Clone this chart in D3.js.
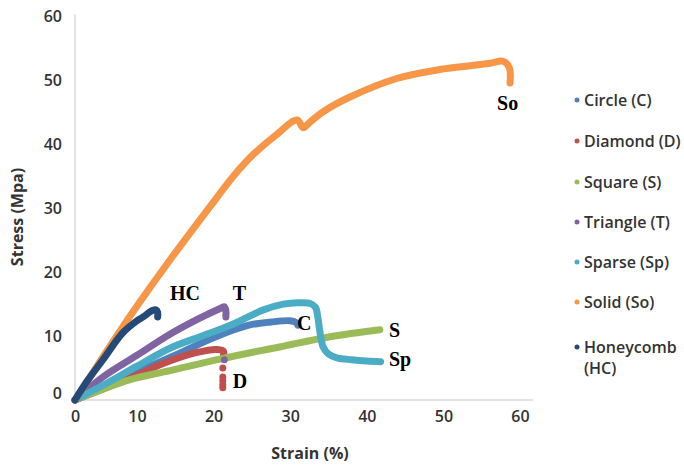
<!DOCTYPE html>
<html>
<head>
<meta charset="utf-8">
<script src="https://cdn.jsdelivr.net/npm/d3@7"></script>
<style>
  body { margin: 0; background: #fff; }
  svg { display: block; }
</style>
</head>
<body>
<div id="chart"></div>
<script>
// Tick values
const strainTicks = [0, 10, 20, 30, 40, 50, 60];
const stressTicks = [0, 10, 20, 30, 40, 50, 60];

// Curves: [strain %, stress MPa]
const circle = [[0,0],[4.5,1.9],[10,4.4],[15.5,7.3],[20.3,9.9],[24.6,11.7],[27.5,12.2],[30,12.4],[30.8,12.1],[31,11.7]];
const diamond = [[0,0],[5,1.9],[10,3.9],[13.4,5.7],[17.7,7.4],[20.5,7.9],[21.3,7.6],[21.3,7.1]];
const diamondDrop = [[21.2,5],[21.2,3.6],[21.2,3],[21.2,2.4],[21.2,1.9]];
const square = [[0,0],[4.5,1.7],[8.9,3.2],[14.3,4.6],[20.8,6.4],[28.6,8.3],[35.2,9.9],[41.7,11]];
const triangle = [[0,0],[4.5,3.6],[10,7],[14.3,10.3],[18,12.7],[21,14.4],[21.4,14.6],[21.6,14],[21.6,13]];
const triangleDrop = [[21.4,6.3]];
const sparse = [[0,0],[4.5,2.3],[10,5.3],[14.3,8.1],[18.2,9.9],[22.2,11.7],[24.5,13],[26.5,14.1],[29.1,15],[31,15.2],[32.6,15.1],[33.3,14.5],[33.6,13],[33.9,10.5],[34.3,8.3],[35,7.2],[36.1,6.6],[38,6.3],[40,6.1],[41.8,6]];
const solid = [[0,0],[3.55,5.3],[7.26,10.8],[10,14.7],[14.3,21.9],[19.5,30.2],[22.5,34.9],[25,38.2],[28,41.3],[30.9,43.8],[31.7,42.6],[32.6,43.5],[34.3,45.1],[37.8,47.4],[43.9,50.3],[49.5,51.7],[53.5,52.3],[56.1,52.7],[57.8,53],[58.6,52],[58.7,49.6]];
const honeycomb = [[0,0],[2,3],[4.5,6.3],[7.7,10.5],[10,12.4],[10.8,13],[12,14],[12.5,14.1],[12.7,13.7],[12.7,13]];

const seriesNames = ["Circle (C)", "Diamond (D)", "Square (S)", "Triangle (T)", "Sparse (Sp)", "Solid (So)", "Honeycomb (HC)"];
const seriesColors = ["#4f81bd", "#c0504d", "#9bbb59", "#8064a2", "#4bacc6", "#f79646", "#264a78"];
const seriesData = [circle, diamond, square, triangle, sparse, solid, honeycomb];
const dropData = [[], diamondDrop, [], triangleDrop, [], [], []];

// Curve tags: [label, strain, stress]
const tags = [["HC",14.3,15.6],["T",22.5,15.6],["C",30.9,11],["S",42.9,9.9],["Sp",42.9,5.3],["D",22.5,1.9],["So",57,45.4]];

const width = 684, height = 470;

const svg = d3.select("#chart").append("svg")
  .attr("width", width)
  .attr("height", height);

// the strain axis in the picture is not evenly spaced below 10
const x = d3.scaleLinear().domain([0, 10, 60]).range([75, 137, 520]);
const y = d3.scaleLinear().domain([0, 60]).range([400, 16.5]);

// axis lines
svg.append("line")
  .attr("x1", x(0)).attr("x2", x(0))
  .attr("y1", y(60) - 2).attr("y2", y(0))
  .attr("stroke", "#d9d9d9").attr("stroke-width", 1.5);
svg.append("line")
  .attr("x1", x(0)).attr("x2", 533)
  .attr("y1", y(0)).attr("y2", y(0))
  .attr("stroke", "#d9d9d9").attr("stroke-width", 1.5);

// ticks
const xAxis = svg.append("g")
  .attr("transform", "translate(0," + y(0) + ")")
  .call(d3.axisBottom(x).tickValues(strainTicks).tickSize(0).tickPadding(11));
const yAxis = svg.append("g")
  .attr("transform", "translate(" + x(0) + ",0)")
  .call(d3.axisLeft(y).tickValues(stressTicks).tickSize(0).tickPadding(13));

[xAxis, yAxis].forEach(g => {
  g.select(".domain").remove();
  g.selectAll("text")
    .attr("font-family", "'Open Sans', sans-serif")
    .attr("font-size", 16)
    .attr("font-weight", 600)
    .attr("fill", "#333");
});
// the zero label sits a little higher in the original
yAxis.selectAll(".tick").filter(d => d === 0).select("text").attr("y", -7);

// axis titles
svg.append("text")
  .attr("x", 310)
  .attr("y", 459)
  .attr("text-anchor", "middle")
  .attr("font-family", "'Open Sans', sans-serif")
  .attr("font-size", 16)
  .attr("font-weight", 700)
  .attr("fill", "#333")
  .text("Strain (%)");

svg.append("text")
  .attr("transform", "translate(23,217) rotate(-90)")
  .attr("text-anchor", "middle")
  .attr("font-family", "'Open Sans', sans-serif")
  .attr("font-size", 16)
  .attr("font-weight", 700)
  .attr("fill", "#333")
  .text("Stress (Mpa)");

// curves
const line = d3.line()
  .curve(d3.curveCatmullRom.alpha(0.5))
  .x(d => x(d[0]))
  .y(d => y(d[1]));

seriesData.forEach((data, i) => {
  svg.append("path")
    .datum(data)
    .attr("fill", "none")
    .attr("stroke", seriesColors[i])
    .attr("stroke-width", 7)
    .attr("stroke-linecap", "round")
    .attr("stroke-linejoin", "round")
    .attr("d", line);

  svg.selectAll(null)
    .data(dropData[i])
    .enter().append("circle")
    .attr("cx", d => x(d[0]))
    .attr("cy", d => y(d[1]))
    .attr("r", 3.5)
    .attr("fill", seriesColors[i]);
});

// curve tags
svg.selectAll(".tag")
  .data(tags)
  .enter().append("text")
  .attr("class", "tag")
  .attr("x", d => x(d[1]))
  .attr("y", d => y(d[2]))
  .attr("font-family", "'Liberation Serif', 'Times New Roman', serif")
  .attr("font-size", 20)
  .attr("font-weight", 700)
  .attr("fill", "#000")
  .text(d => d[0]);

// legend
const legendY = [100, 141, 182, 222, 262, 302, 347];
const legend = svg.append("g")
  .selectAll("g")
  .data(seriesNames)
  .enter().append("g")
  .attr("transform", (d, i) => "translate(577," + legendY[i] + ")");

legend.append("circle")
  .attr("r", 2.5)
  .attr("fill", (d, i) => seriesColors[i]);

legend.append("text")
  .attr("x", 7)
  .attr("font-family", "'Open Sans', sans-serif")
  .attr("font-size", 16)
  .attr("font-weight", 600)
  .attr("fill", "#333")
  .each(function(d) {
    const parts = d === "Honeycomb (HC)" ? ["Honeycomb", "(HC)"] : [d];
    d3.select(this).selectAll("tspan")
      .data(parts)
      .enter().append("tspan")
      .attr("x", 7)
      .attr("dy", (p, j) => j === 0 ? "0.35em" : "1.35em")
      .text(p => p);
  });
</script>
</body>
</html>
